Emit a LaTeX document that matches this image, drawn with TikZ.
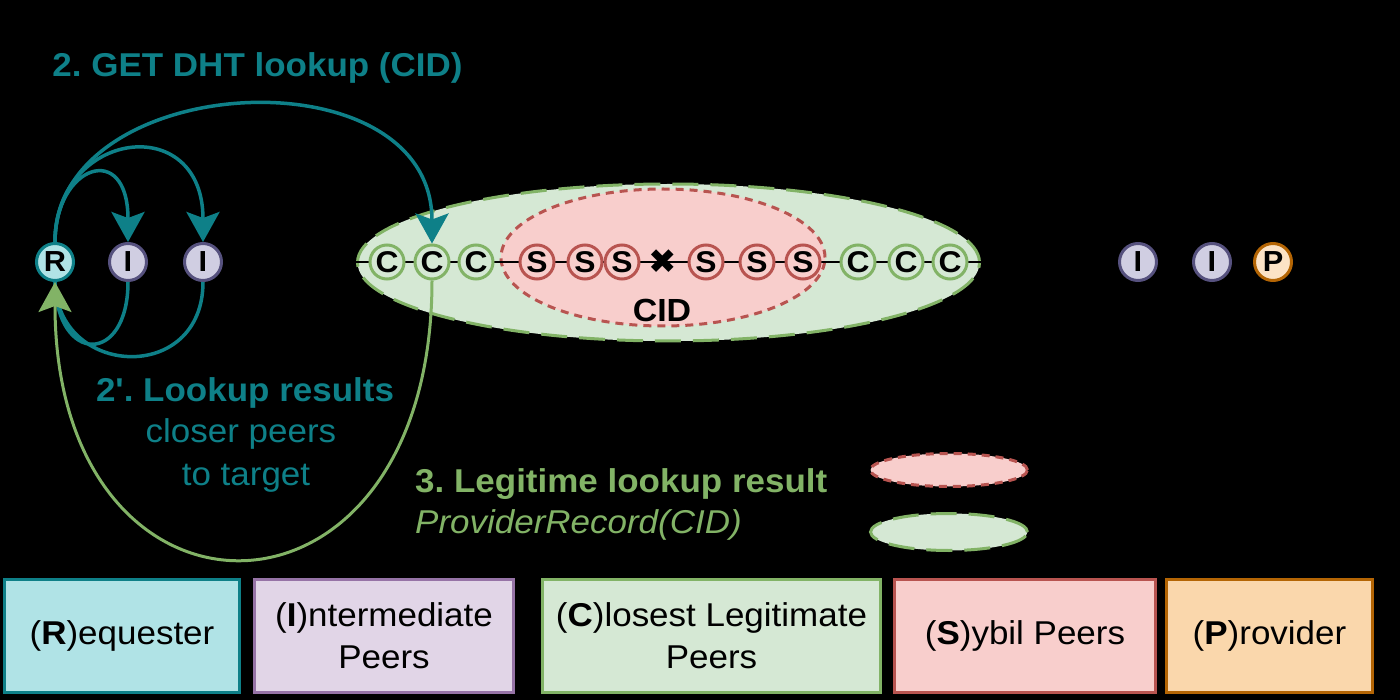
\documentclass[tikz,border=0pt]{standalone}
\usepackage{fontspec}
\setmainfont{Liberation Sans}[FakeStretch=1.06]
\newfontfamily\lib{Liberation Sans}[FakeStretch=1.06]
\newfontfamily\dejavu{DejaVu Sans}
\usetikzlibrary{arrows.meta,shapes.geometric}
\definecolor{tealS}{HTML}{0E8088}
\definecolor{tealF}{HTML}{B0E3E6}
\definecolor{purS}{HTML}{56517E}
\definecolor{purF}{HTML}{D0CEE2}
\definecolor{ilegS}{HTML}{9673A6}
\definecolor{ilegF}{HTML}{E1D5E7}
\definecolor{grnS}{HTML}{82B366}
\definecolor{grnF}{HTML}{D5E8D4}
\definecolor{redS}{HTML}{B85450}
\definecolor{redF}{HTML}{F8CECC}
\definecolor{orgS}{HTML}{B46504}
\definecolor{orgF}{HTML}{FAD7AC}
\definecolor{orgL}{HTML}{FCE3C6}
\frenchspacing
\begin{document}
\begin{tikzpicture}[x=1pt,y=-1pt,
  peerbig/.style={circle,line width=3pt,minimum size=37pt,inner sep=0pt,font=\bfseries\fontsize{29}{29}\selectfont},
  peersmall/.style={circle,line width=3pt,minimum size=34pt,inner sep=0pt,font=\bfseries\fontsize{30}{30}\selectfont},
  cpeer/.style={peersmall,draw=grnS,fill=grnF},
  speer/.style={peersmall,draw=redS,fill=redF},
  ipeer/.style={peerbig,draw=purS,fill=purF},
  tarrow/.style={draw=tealS,line width=3.5pt,-{Stealth[length=30pt,width=33pt,inset=6pt]}},
  tline/.style={draw=tealS,line width=3.5pt},
  garrow/.style={draw=grnS,line width=3pt,-{Stealth[length=30pt,width=33pt,inset=6pt]}},
  legbox/.style={rectangle,line width=3pt,inner sep=0pt,minimum height=113pt,align=center,text=black,font=\fontsize{33}{42}\selectfont},
  ttxt/.style={text=tealS,anchor=base,inner sep=0pt},
  gtxt/.style={text=grnS,anchor=base west,inner sep=0pt}
]
\fill[black] (0,0) rectangle (1400,700);
\useasboundingbox (0,0) rectangle (1400,700);

% keyspace ellipses
\node[ellipse,draw=grnS,fill=grnF,line width=3pt,dash pattern=on 26pt off 12pt,minimum width=622pt,minimum height=157pt,inner sep=0pt] (gell) at (668.5,262.5) {};
\node[ellipse,draw=redS,fill=redF,line width=3pt,dash pattern=on 8pt off 6pt,minimum width=324pt,minimum height=137pt,inner sep=0pt] (rell) at (663,257.5) {};
\node[anchor=base,inner sep=0pt,font=\bfseries\fontsize{32}{32}\selectfont] (cid) at (662,322) {CID};

\coordinate (lineL) at (355,262);
\coordinate (lineR) at (981,262);
\draw[line width=2.5pt] (lineL) -- (lineR);

% peers on the line
\node[cpeer] (C1) at (387,262) {C};
\node[cpeer] (C2) at (432,262) {C};
\node[cpeer] (C3) at (476,262) {C};
\node[speer] (S1) at (537,262) {S};
\node[speer] (S2) at (585,262) {S};
\node[speer] (S3) at (622,262) {S};
\node[inner sep=0pt,font=\dejavu\fontsize{34}{34}\selectfont] (X) at (663,262) {✖};
\node[speer] (S4) at (706,262) {S};
\node[speer] (S5) at (757,262) {S};
\node[speer] (S6) at (803,262) {S};
\node[cpeer] (C4) at (858,262) {C};
\node[cpeer] (C5) at (906,262) {C};
\node[cpeer] (C6) at (950,262) {C};

% left peers
\node[peerbig,draw=tealS,fill=tealF] (R) at (55,262) {R};
\node[ipeer] (I1) at (128,262) {I};
\node[ipeer] (I2) at (203,262) {I};

% right peers
\node[ipeer] (I3) at (1138,262) {I};
\node[ipeer] (I4) at (1212,262) {I};
\node[peerbig,draw=orgS,fill=orgL] (P) at (1273,262) {P};

% lookup arrows
\draw[tarrow] (R.north) .. controls (55,165) and (128,140) .. (I1.north);
\draw[tarrow] (R.north) .. controls (55,130) and (203,110) .. (I2.north);
\draw[tarrow] (R.north) .. controls (55,70) and (432,50) .. (C2.north);
% returns
\draw[tline] (I1.south) .. controls (128,365) and (57,365) .. (R.south);
\draw[tline] (I2.south) .. controls (203,385) and (57,378) .. (R.south);
\draw[garrow] (C2.south) .. controls (432,650) and (55,650) .. (R.south);

% texts
\node[ttxt,font=\bfseries\fontsize{33}{33}\selectfont] (t1) at (257.5,77) {2. GET DHT lookup (CID)};
\node[ttxt,font=\lib\bfseries\fontsize{33}{33}\selectfont] (t2) at (245,401) {2'. Lookup results};
\node[ttxt,font=\fontsize{33}{33}\selectfont] (t3) at (241,442) {closer peers};
\node[ttxt,font=\fontsize{33}{33}\selectfont] (t4) at (246,485) {to target};
\node[gtxt,font=\bfseries\fontsize{33}{33}\selectfont] (t5) at (415,492) {3. Legitime lookup result};
\node[gtxt,font=\itshape\fontsize{33}{33}\selectfont] (t6) at (415,533) {ProviderRecord(CID)};

% legend ellipses
\node[ellipse,draw=redS,fill=redF,line width=3pt,dash pattern=on 8pt off 6pt,minimum width=157pt,minimum height=33pt,inner sep=0pt] (legS) at (949,470) {};
\node[ellipse,draw=grnS,fill=grnF,line width=3pt,dash pattern=on 26pt off 12pt,minimum width=157pt,minimum height=37pt,inner sep=0pt] (legC) at (949,532) {};

% legend boxes
\node[legbox,draw=tealS,fill=tealF,minimum width=235pt] (bR) at (122,636) {(\textbf{R})equester};
\node[legbox,draw=ilegS,fill=ilegF,minimum width=259pt] (bI) at (384,636) {(\textbf{I})ntermediate\\Peers};
\node[legbox,draw=grnS,fill=grnF,minimum width=338pt] (bC) at (711.5,636) {(\textbf{C})losest Legitimate\\Peers};
\node[legbox,draw=redS,fill=redF,minimum width=261pt] (bS) at (1025,636) {(\textbf{S})ybil Peers};
\node[legbox,draw=orgS,fill=orgF,minimum width=206pt] (bP) at (1269.5,636) {(\textbf{P})rovider};
\end{tikzpicture}
\end{document}
